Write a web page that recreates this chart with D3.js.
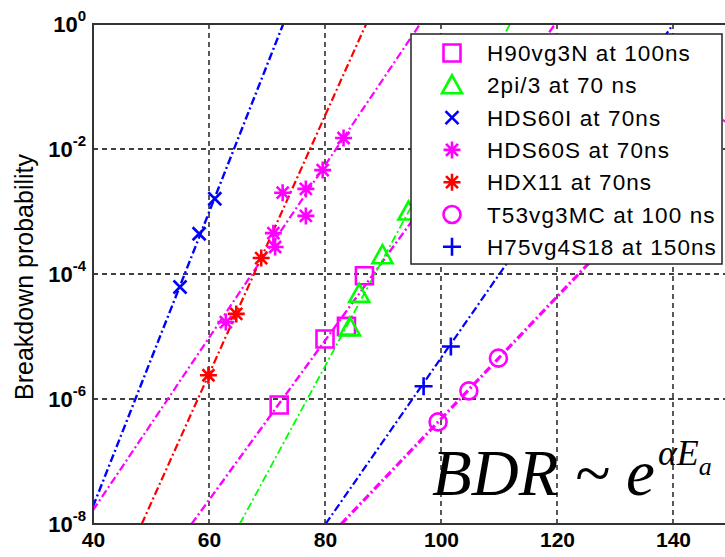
<!DOCTYPE html>
<html lang="en">
<head>
<meta charset="UTF-8">
<title>Breakdown probability</title>
<script src="https://d3js.org/d3.v7.min.js"></script>
<style>
  body { margin: 0; background: #fff; }
  svg { display: block; font-family: "Liberation Sans", Arial, sans-serif; }
  .grid line { stroke: #000; stroke-width: 1.3; stroke-dasharray: 5,4; }
  .fit { fill: none; stroke-dasharray: 8,3,2,3; }
  .mark { fill: none; stroke-width: 2.6; }
</style>
</head>
<body>
<script>
// data
var xTicks = [40, 60, 80, 100, 120, 140];
var yTicks = [1e-8, 1e-6, 1e-4, 1e-2, 1];
var yTickExp = ["-8", "-6", "-4", "-2", "0"];

var names = ["H90vg3N at 100ns", "2pi/3 at 70 ns", "HDS60I at 70ns", "HDS60S at 70ns",
             "HDX11 at 70ns", "T53vg3MC at 100 ns", "H75vg4S18 at 150ns"];
var colors = ["#ff00ff", "#00ff00", "#0000ff", "#ff00ff", "#ff0000", "#ff00ff", "#0000ff"];
var markers = ["square", "triangle", "x", "star", "star", "circle", "plus"];

var h90X = [72.1, 80.0, 83.7, 86.8];
var h90Y = [8.0e-7, 9.1e-6, 1.45e-5, 9.4e-5];
var h90FitX = [57.0, 119.7];
var h90FitY = [1e-8, 1];

var pi3X = [84.3, 85.9, 89.9, 94.4];
var pi3Y = [1.4e-5, 4.8e-5, 2.0e-4, 1.0e-3];
var pi3FitX = [65.3, 111.9];
var pi3FitY = [1e-8, 1];

var hds60iX = [55.0, 58.3, 61.0];
var hds60iY = [6.2e-5, 4.4e-4, 1.6e-3];
var hds60iFitX = [40, 72.8];
var hds60iFitY = [1.9e-8, 1];

var hds60sX = [62.9, 71.1, 71.4, 72.7, 76.7, 76.7, 79.6, 83.2];
var hds60sY = [1.7e-5, 4.5e-4, 2.7e-4, 2.0e-3, 2.3e-3, 8.5e-4, 4.6e-3, 1.5e-2];
var hds60sFitX = [40, 96.4];
var hds60sFitY = [1.66e-8, 1];

var hdx11X = [59.9, 64.7, 69.0];
var hdx11Y = [2.4e-6, 2.3e-5, 1.8e-4];
var hdx11FitX = [48.4, 87.1];
var hdx11FitY = [1e-8, 1];

var t53X = [99.5, 104.8, 109.9];
var t53Y = [4.3e-7, 1.35e-6, 4.5e-6];
var t53FitX = [82.8, 150];
var t53FitY = [1e-8, 3.7e-2];

var h75X = [97.0, 101.7];
var h75Y = [1.6e-6, 6.9e-6];
var h75FitX = [80.1, 140.05];
var h75FitY = [1e-8, 1];

var pointsX = [h90X, pi3X, hds60iX, hds60sX, hdx11X, t53X, h75X];
var pointsY = [h90Y, pi3Y, hds60iY, hds60sY, hdx11Y, t53Y, h75Y];
var fitsX = [h90FitX, pi3FitX, hds60iFitX, hds60sFitX, hdx11FitX, t53FitX, h75FitX];
var fitsY = [h90FitY, pi3FitY, hds60iFitY, hds60sFitY, hdx11FitY, t53FitY, h75FitY];
var fitWidth = [2.4, 1.8, 2.4, 2.2, 2.2, 3.2, 2.2];

var svg = d3.select('body').append('svg').attr('width', 725).attr('height', 557);

var x = d3.scaleLinear().domain([40, 150]).range([93, 731]);
var y = d3.scaleLog().domain([1e-8, 1]).range([524, 24]);

svg.append('defs').append('clipPath').attr('id', 'plot')
    .append('rect').attr('x', 93).attr('y', 24).attr('width', 638).attr('height', 500);

// grid
var grid = svg.append('g').attr('class', 'grid');
grid.selectAll('.gx').data(xTicks.slice(1)).enter().append('line')
    .attr('x1', function (d) { return x(d); }).attr('x2', function (d) { return x(d); })
    .attr('y1', y(1)).attr('y2', y(1e-8));
grid.selectAll('.gy').data(yTicks.slice(1, -1)).enter().append('line')
    .attr('x1', x(40)).attr('x2', x(150))
    .attr('y1', function (d) { return y(d); }).attr('y2', function (d) { return y(d); });

// fitted lines
var plot = svg.append('g').attr('clip-path', 'url(#plot)');
var line = d3.line().x(function (d) { return x(d[0]); }).y(function (d) { return y(d[1]); });
names.forEach(function (n, i) {
    plot.append('path').attr('class', 'fit')
        .attr('d', line(d3.zip(fitsX[i], fitsY[i])))
        .attr('stroke', colors[i]).attr('stroke-width', fitWidth[i]);
});

// marker shapes
function markerPath(type) {
    var s;
    if (type === 'square') { s = 8.5; return 'M' + -s + ',' + -s + 'H' + s + 'V' + s + 'H' + -s + 'Z'; }
    if (type === 'triangle') { s = 10; return 'M0,' + -s + 'L' + s + ',' + (s * 0.8) + 'H' + -s + 'Z'; }
    if (type === 'circle') { s = 8.5; return 'M' + s + ',0A' + s + ',' + s + ' 0 1,1 ' + -s + ',0A' + s + ',' + s + ' 0 1,1 ' + s + ',0Z'; }
    if (type === 'plus') { s = 9; return 'M' + -s + ',0H' + s + 'M0,' + -s + 'V' + s; }
    if (type === 'x') { s = 6.5; return 'M' + -s + ',' + -s + 'L' + s + ',' + s + 'M' + -s + ',' + s + 'L' + s + ',' + -s; }
    s = 8.5; var t = 6;
    return 'M' + -s + ',0H' + s + 'M0,' + -s + 'V' + s +
        'M' + -t + ',' + -t + 'L' + t + ',' + t + 'M' + -t + ',' + t + 'L' + t + ',' + -t;
}

names.forEach(function (n, i) {
    plot.selectAll('.m' + i).data(d3.zip(pointsX[i], pointsY[i])).enter().append('path')
        .attr('class', 'mark')
        .attr('transform', function (d) { return 'translate(' + x(d[0]) + ',' + y(d[1]) + ')'; })
        .attr('d', markerPath(markers[i]))
        .attr('stroke', colors[i]);
});

// axes box
var box = svg.append('g').attr('stroke', '#333').attr('stroke-width', 2).attr('fill', 'none');
box.append('path').attr('d', 'M' + x(150) + ',' + y(1) + 'H' + x(40) + 'V' + y(1e-8) + 'H' + x(150));

var xAxis = d3.axisBottom(x).tickValues(xTicks).tickSize(0).tickPadding(8);
var gx = svg.append('g').attr('transform', 'translate(0,' + y(1e-8) + ')').call(xAxis);
gx.select('.domain').remove();
gx.selectAll('text').attr('font-size', 21).attr('font-weight', 'bold')
    .attr('font-family', '"Liberation Sans", Arial, sans-serif').attr('fill', '#000');

var yl = svg.append('g').selectAll('text').data(yTicks).enter().append('text')
    .attr('x', 86).attr('y', function (d) { return y(d) + 8; })
    .attr('text-anchor', 'end').attr('font-size', 22).attr('font-weight', 'bold');
yl.append('tspan').text('10');
yl.append('tspan').attr('dy', -11).attr('font-size', 15).text(function (d, i) { return yTickExp[i]; });

svg.append('text').attr('transform', 'translate(33,277) rotate(-90)')
    .attr('text-anchor', 'middle').attr('font-size', 25).text('Breakdown probability');

// legend
var lg = svg.append('g');
lg.append('rect').attr('x', 411).attr('y', 34).attr('width', 311).attr('height', 230)
    .attr('fill', '#fff').attr('stroke', '#222').attr('stroke-width', 1.5);
names.forEach(function (n, i) {
    var ry = 53 + i * 32.3;
    lg.append('path').attr('class', 'mark').attr('transform', 'translate(452,' + ry + ')')
        .attr('d', markerPath(markers[i])).attr('stroke', colors[i]);
    lg.append('text').attr('x', 487).attr('y', ry + 8).attr('font-size', 22.5)
        .attr('letter-spacing', 1.1).text(n);
});

// formula
var f = svg.append('text').attr('x', 432).attr('y', 495)
    .attr('font-family', '"Liberation Serif", "Times New Roman", serif').attr('font-style', 'italic');
f.append('tspan').attr('font-size', 65).text('BDR ~ e');
f.append('tspan').attr('font-size', 36).attr('dy', -30).attr('dx', 3).text('\u03b1E');
f.append('tspan').attr('font-size', 26).attr('dy', 10).text('a');
</script>
</body>
</html>
